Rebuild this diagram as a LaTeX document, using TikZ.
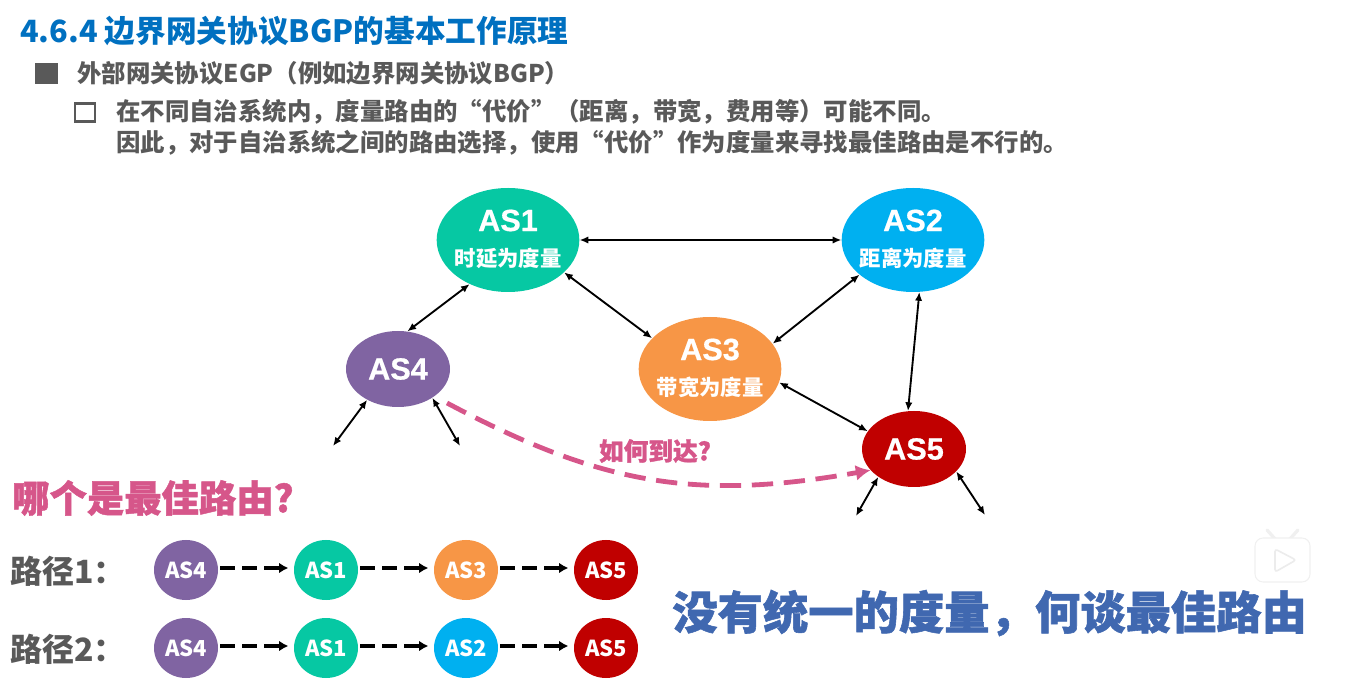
\documentclass[tikz,border=0pt]{standalone}
\usepackage{fontspec}
\setmainfont{Noto Sans CJK SC}
\newfontfamily\asfont[BoldFeatures={FakeBold=0.6}]{Liberation Sans}
\newfontfamily\heavyfont[BoldFeatures={FakeBold=1.2}]{Noto Sans CJK SC}
\usetikzlibrary{arrows.meta, positioning, shapes.geometric}
\definecolor{as1col}{HTML}{06C8A3}
\definecolor{as2col}{HTML}{00B0F0}
\definecolor{as3col}{HTML}{F79646}
\definecolor{as4col}{HTML}{8064A2}
\definecolor{as5col}{HTML}{C00000}
\definecolor{titlecol}{HTML}{0070C0}
\definecolor{bodycol}{HTML}{595959}
\definecolor{pinkcol}{HTML}{D6568A}
\definecolor{bluecol}{HTML}{4068B0}
\newcommand{\metric}[1]{{\bfseries\fontspec{Noto Sans CJK SC}\fontsize{16}{16}\selectfont #1\rule[-3pt]{0pt}{0pt}}}

\begin{document}
\begin{tikzpicture}[
  x=0.75pt, y=0.75pt, on grid,
  bigas/.style={ellipse, minimum width=107pt, minimum height=78pt, inner sep=-4pt, text=white, align=center, font=\asfont\bfseries\fontsize{23}{23}\selectfont},
  smallas/.style={ellipse, minimum width=78pt, minimum height=57pt, inner sep=0pt, text=white, font=\asfont\bfseries\fontsize{23}{23}\selectfont},
  pathas/.style={ellipse, minimum width=48pt, minimum height=45pt, inner sep=0pt, text=white, font=\bfseries\fontsize{16.5}{17}\selectfont},
  link/.style={{Latex[length=6.5pt,width=5.5pt]}-{Latex[length=6.5pt,width=5.5pt]}, line width=1.4pt},
  hop/.style={-{Latex[length=7pt,width=8pt]}, line width=2.6pt, dash pattern=on 11pt off 5.5pt},
  txt/.style={anchor=west, inner sep=0pt, align=left, text=bodycol, font=\bfseries\fontsize{18.3}{23.2}\selectfont}
]
\useasboundingbox (0,0) rectangle (1346,-680);

\node[anchor=west, inner sep=0pt, text=titlecol, font=\bfseries\fontsize{23}{23}\selectfont] (title) at (20,-31) {4.6.4 边界网关协议BGP的基本工作原理};
\node[rectangle, fill=bodycol, minimum width=17pt, minimum height=16pt, inner sep=0pt] (bullet1) at (46.5,-73.5) {};
\node[txt] (item1) at (77,-73) {外部网关协议EGP（例如边界网关协议BGP）};
\node[rectangle, draw=bodycol, line width=1.6pt, minimum width=15pt, minimum height=13.5pt, inner sep=0pt] (bullet2) at (85,-112.5) {};
\node[txt] (item2) at (116,-127.5) {在不同自治系统内，度量路由的“代价”（距离，带宽，费用等）可能不同。\\因此，对于自治系统之间的路由选择，使用“代价”作为度量来寻找最佳路由是不行的。};

\node[bigas, fill=as1col] (as1) at (508,-240) {AS1\\[3.5pt]\metric{时延为度量}};
\node[bigas, fill=as2col, right=303.75pt of as1] (as2) {AS2\\[3.5pt]\metric{距离为度量}};
\node[bigas, fill=as3col, below right=96.75pt and 151.5pt of as1] (as3) {AS3\\[3.5pt]\metric{带宽为度量}};
\node[smallas, fill=as4col, left=234pt of as3] (as4) {AS4};
\node[smallas, fill=as5col, below right=60pt and 153pt of as3] (as5) {AS5};

\coordinate (as4l) at (333,-446);
\coordinate (as4r) at (460,-446);
\coordinate (as5l) at (856,-516);
\coordinate (as5r) at (985,-515);
\coordinate (routefrom) at (447,-403);

\draw[link] (as1.east) -- (as2.west);
\draw[link] (as1.229) -- (as4.76);
\draw[link] (as1.-30) -- (as3.152);
\draw[link] (as2.213) -- (as3.22);
\draw[link] (as2.-83) -- (as5.99);
\draw[link] (as3.-11) -- (as5.159);
\draw[link] (as4.225) -- (as4l);
\draw[link] (as4.-40) -- (as4r);
\draw[link] (as5.218) -- (as5l);
\draw[link] (as5.-28) -- (as5r);

\draw[-{Latex[length=11pt,width=12pt]}, pinkcol, line width=3.6pt, dash pattern=on 16pt off 8pt] (routefrom) to[out=-28, in=190, looseness=1.05] (as5.206);
\node[text=pinkcol, inner sep=0pt, font=\heavyfont\bfseries\fontsize{18.5}{19}\selectfont] (howto) at (655,-451) {如何到达?};

\node[anchor=west, inner sep=0pt, text=pinkcol, font=\heavyfont\bfseries\fontsize{28}{28}\selectfont] (which) at (12,-498) {哪个是最佳路由?};

\node[anchor=west, inner sep=0pt, text=bodycol, font=\bfseries\fontsize{24}{24}\selectfont] (path1) at (10,-571) {路径1：};
\node[pathas, fill=as4col] (p1a) at (186,-570) {AS4};
\node[pathas, fill=as1col, right=105pt of p1a] (p1b) {AS1};
\node[pathas, fill=as3col, right=105pt of p1b] (p1c) {AS3};
\node[pathas, fill=as5col, right=105pt of p1c] (p1d) {AS5};

\node[anchor=west, inner sep=0pt, text=bodycol, font=\bfseries\fontsize{24}{24}\selectfont] (path2) at (10,-649) {路径2：};
\node[pathas, fill=as4col, below=58.5pt of p1a] (p2a) {AS4};
\node[pathas, fill=as1col, right=105pt of p2a] (p2b) {AS1};
\node[pathas, fill=as2col, right=105pt of p2b] (p2c) {AS2};
\node[pathas, fill=as5col, right=105pt of p2c] (p2d) {AS5};

\draw[hop] (p1a.east) ++(1.5pt,1.5pt) -- ([xshift=-4pt,yshift=1.5pt]p1b.west);
\draw[hop] (p1b.east) ++(1.5pt,1.5pt) -- ([xshift=-4pt,yshift=1.5pt]p1c.west);
\draw[hop] (p1c.east) ++(1.5pt,1.5pt) -- ([xshift=-4pt,yshift=1.5pt]p1d.west);
\draw[hop] (p2a.east) ++(1.5pt,1.5pt) -- ([xshift=-4pt,yshift=1.5pt]p2b.west);
\draw[hop] (p2b.east) ++(1.5pt,1.5pt) -- ([xshift=-4pt,yshift=1.5pt]p2c.west);
\draw[hop] (p2c.east) ++(1.5pt,1.5pt) -- ([xshift=-4pt,yshift=1.5pt]p2d.west);

\node[anchor=west, inner sep=0pt, text=bluecol, font=\heavyfont\bfseries\fontsize{34}{34}\selectfont] (nometric) at (672,-613) {没有统一的度量，何谈最佳路由};

\draw[gray!12, line width=2.5pt, line cap=round] (1267,-530) -- (1276,-540) (1298,-530) -- (1289,-540);
\draw[gray!12, fill=white, rounded corners=6pt, line width=0.8pt] (1255,-538) rectangle (1310,-582);
\draw[gray!15, line width=1.2pt, rounded corners=2pt] (1275,-549) -- (1275,-572) -- (1296,-560) -- cycle;
\end{tikzpicture}
\end{document}
